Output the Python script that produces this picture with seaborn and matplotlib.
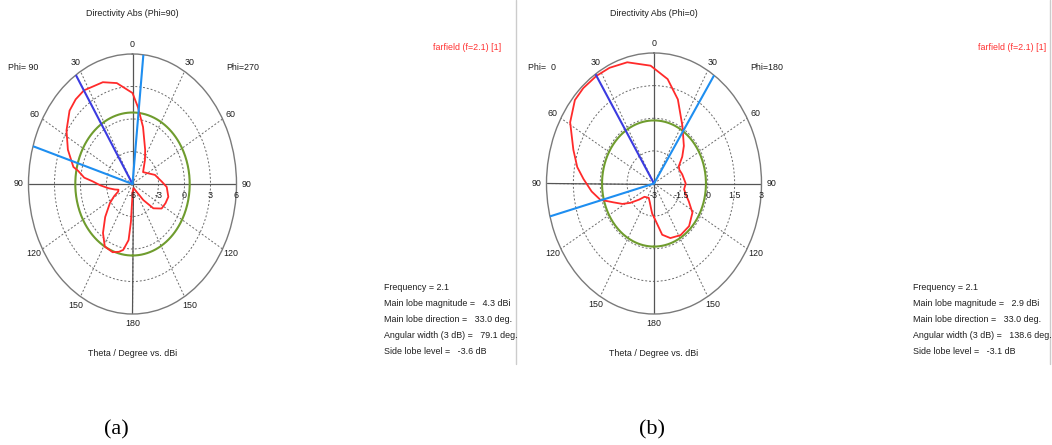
import numpy as np
import matplotlib
matplotlib.use("Agg")
import matplotlib.pyplot as plt
import seaborn as sns
from matplotlib.lines import Line2D
from matplotlib.transforms import ScaledTranslation

# ---- cut (a): Phi = 90, theta in degrees (positive toward the Phi=90 side) ----
theta_a = [-180, -165, -152, -146, -140, -133, -124, -115, -106, -94, -86, -72,
           -60, -48, -33, -25, -13, -5, 0, 11, 20, 33, 40, 47, 57, 67, 77, 79,
           84, 87, 92, 98, 104, 108, 113, 118, 124, 134, 143, 151, 160, 166,
           170, 175, 177, 178.5, 180]
dbi_a = [-5.2, -5.6, -5.4, -5.1, -4.07, -2.71, -1.95, -1.8, -1.7, -2.04, -2.63, -3.28,
         -4.0, -4.36, -3.36, -2.54, -0.6, 1.13, 2.4, 3.49, 4.0, 4.3, 4.2, 3.93, 3.08, 2.1, 1.0, 0.4,
         -0.4, -1.4, -2.3, -3.2, -3.9, -4.3, -4.2, -3.6, -2.86, -1.62, -0.34, 0.6, 0.7, 0.45,
         0.18, -0.8, -2.5, -4.5, -5.2]
main_dir_a = 33.0
main_mag_a = 4.3
beam_edges_a = [-6.0, 73.1]
level_3db_a = 0.6
side_lobe_a = -3.6
rticks_a = [-6, -3, 0, 3, 6]
rlabels_a = ["-6", "-3", "0", "3", "6"]

# ---- cut (b): Phi = 0 ----
theta_b = [-180, -169, -160, -148, -135, -122, -113, -106, -99, -90, -75, -66,
           -60, -52, -44, -31, -19, -9, 2, 15, 25, 33, 42, 49, 59, 71, 80, 87,
           96, 104, 111, 118, 124, 132, 139, 156, 165, 172.6, 176, 180]
dbi_b = [-1.45, -0.6, -0.33, -0.2, -0.23, -0.47, -0.89, -1.15, -1.3, -1.23, -1.37, -1.45,
         -1.4, -1.0, -0.6, 0.08, 1.09, 1.86, 2.42, 2.77, 2.87, 2.9, 2.9, 2.85, 2.46, 1.76, 1.35, 0.94,
         0.5, 0.09, -0.58, -1.0, -1.41, -1.9, -2.19, -2.28, -2.1, -1.8, -1.6, -1.45]
main_dir_b = 33.0
main_mag_b = 2.9
beam_edges_b = [-34.0, 104.6]
level_3db_b = -0.1
side_lobe_b = -3.1
rticks_b = [-3, -1.5, 0, 1.5, 3]
rlabels_b = ["-3", "-1.5", "0", "1.5", "3"]

frequency = 2.1
theta_tick_deg = [0, 30, 60, 90, 120, 150, 180, 210, 240, 270, 300, 330]
theta_tick_lbl = ["0", "30", "60", "90", "120", "150", "180", "150", "120", "90", "60", "30"]

W, H = 1052, 445
sns.set_theme(style="white")
plt.rcParams["font.family"] = ["Liberation Sans", "DejaVu Sans"]
fig = plt.figure(figsize=(W / 100, H / 100), dpi=100)
fig.patch.set_facecolor("white")

SMALL = 6.4
TXT = "#1e1e1e"
RED = "#ff2a2a"
GREEN = "#6f9c2e"
DARKBLUE = "#3b3be0"
LIGHTBLUE = "#1e8ef0"


def fpos(x, y):
    return x / W, 1 - y / H


def draw_cut(box, theta, dbi, rticks, rlabels, main_dir, edges, level):
    x0, y0, x1, y1 = box
    ax = fig.add_axes([x0 / W, 1 - y1 / H, (x1 - x0) / W, (y1 - y0) / H], projection="polar")
    ax.set_theta_zero_location("N")
    ax.set_theta_direction(1)
    rmin, rmax = rticks[0], rticks[-1]
    ax.set_facecolor("white")

    # pattern and -3 dB reference circle
    sns.lineplot(x=np.deg2rad(theta), y=dbi, ax=ax, sort=False, estimator=None,
                 color=RED, linewidth=1.3, zorder=4)
    ring = np.deg2rad(np.arange(-180, 181, 1))
    sns.lineplot(x=ring, y=np.full(ring.shape, level), ax=ax, sort=False, estimator=None,
                 color=GREEN, linewidth=1.5, zorder=3)

    # main lobe direction and beam-width edges
    for ang, col in [(main_dir, DARKBLUE), (edges[0], LIGHTBLUE), (edges[1], LIGHTBLUE)]:
        ax.plot([np.deg2rad(ang)] * 2, [rmin, rmax], color=col, linewidth=1.5, zorder=5)

    # solid principal axes
    for ang in [0, 90, 180, 270]:
        ax.plot([np.deg2rad(ang)] * 2, [rmin, rmax], color="#555555", linewidth=0.9, zorder=2)

    ax.set_ylim(rmin, rmax)
    ax.set_aspect("auto")
    ax.set_yticks(rticks[1:-1])
    ax.set_yticklabels([])
    ax.set_xticks(np.deg2rad(theta_tick_deg))
    ax.set_xticklabels(theta_tick_lbl, fontsize=SMALL, color=TXT)
    ax.tick_params(axis="x", length=0, pad=0)
    ax.grid(True, color="#6a6a6a", linestyle=(0, (2, 2)), linewidth=0.7)
    ax.spines["polar"].set_color("#7a7a7a")
    ax.spines["polar"].set_linewidth(1.0)
    ax.set_xlabel("")
    ax.set_ylabel("")

    off = ScaledTranslation(0, -0.12, fig.dpi_scale_trans)
    for lvl, lab in zip(rticks, rlabels):
        ax.text(np.deg2rad(-90), lvl, lab, transform=ax.transData + off,
                ha="center", va="center", fontsize=SMALL, color=TXT, zorder=6)
    return ax


draw_cut((28.5, 54, 236.5, 314), theta_a, dbi_a, rticks_a, rlabels_a,
         main_dir_a, beam_edges_a, level_3db_a)
draw_cut((546.5, 53, 761.5, 314), theta_b, dbi_b, rticks_b, rlabels_b,
         main_dir_b, beam_edges_b, level_3db_b)


def panel_text(cx, phi_left, phi_right, phi_lx, phi_rx, title, legend_rx, info_x,
               mag, direction, edges, sll):
    fig.text(*fpos(cx, 14), title, ha="center", va="center", fontsize=SMALL, color=TXT)
    fig.text(*fpos(phi_lx, 67), phi_left, ha="left", va="center", fontsize=SMALL, color=TXT)
    fig.text(*fpos(phi_rx, 67), phi_right, ha="left", va="center", fontsize=SMALL, color=TXT)
    fig.text(*fpos(cx, 354), "Theta / Degree vs. dBi", ha="center", va="center",
             fontsize=SMALL, color=TXT)
    fig.text(*fpos(legend_rx, 48), f"farfield (f={frequency}) [1]", ha="right", va="center",
             fontsize=SMALL, color="#ff3030")
    width = edges[1] - edges[0]
    lines = [f"Frequency = {frequency}",
             f"Main lobe magnitude =   {mag:.1f} dBi",
             f"Main lobe direction =   {direction:.1f} deg.",
             f"Angular width (3 dB) =   {width:.1f} deg.",
             f"Side lobe level =   {sll:.1f} dB"]
    for i, s in enumerate(lines):
        fig.text(*fpos(info_x, 288 + 16 * i), s, ha="left", va="center",
                 fontsize=SMALL, color=TXT)


panel_text(132.5, "Phi= 90", "Phi=270", 8, 226, "Directivity Abs (Phi=90)", 501, 384,
           main_mag_a, main_dir_a, beam_edges_a, side_lobe_a)
panel_text(654, "Phi=  0", "Phi=180", 528, 750, "Directivity Abs (Phi=0)", 1046, 913,
           main_mag_b, main_dir_b, beam_edges_b, side_lobe_b)

# panel separators
for xs in [515.5, 1049.5]:
    fig.add_artist(Line2D([xs / W, xs / W], [1, 1 - 364 / H], color="#cccccc",
                          linewidth=1.0, transform=fig.transFigure))

fig.text(*fpos(116, 430), "(a)", ha="center", va="center", fontsize=16,
         family=["Liberation Serif", "DejaVu Serif"], color="black")
fig.text(*fpos(652, 430), "(b)", ha="center", va="center", fontsize=16,
         family=["Liberation Serif", "DejaVu Serif"], color="black")

fig.savefig("out.png", dpi=100, facecolor="white")
